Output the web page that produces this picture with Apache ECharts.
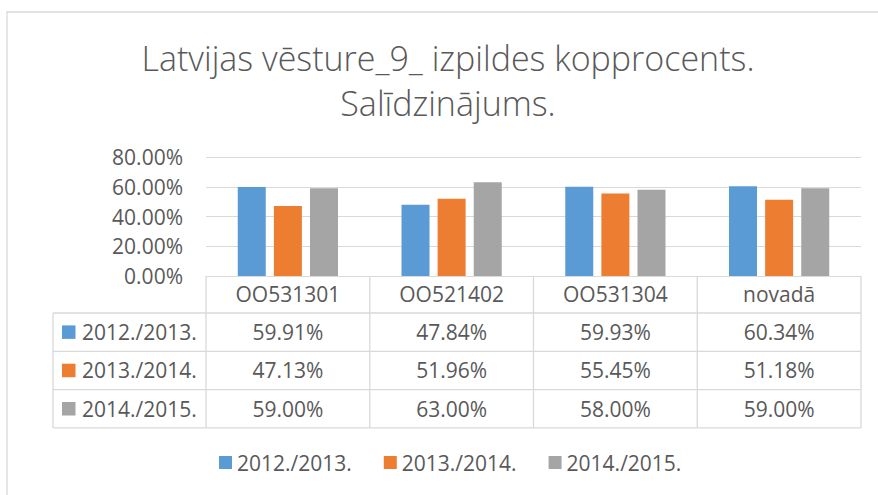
<!DOCTYPE html>
<html><head><meta charset="utf-8">
<script src="https://cdn.jsdelivr.net/npm/echarts@6/dist/echarts.min.js"></script>
<style>html,body{margin:0;padding:0;background:#fff}#c{width:878px;height:495px}</style>
</head><body><div id="c"></div>
<script>
const titleLines = ['Latvijas vēsture_9_ izpildes kopprocents.', 'Salīdzinājums.'];
const categories = ['OO531301', 'OO521402', 'OO531304', 'novadā'];
const seriesNames = ['2012./2013.', '2013./2014.', '2014./2015.'];
const values2012 = [59.91, 47.84, 59.93, 60.34];
const values2013 = [47.13, 51.96, 55.45, 51.18];
const values2014 = [59.00, 63.00, 58.00, 59.00];
const yMin = 0, yMax = 80, yStep = 20;
const colors = ['#5B9BD5', '#ED7D31', '#A5A5A5'];

const allValues = [values2012, values2013, values2014];
const FONT = '"Open Sans", "Noto Sans", sans-serif';
const TXT = '#595959';
const LINE = '#D9D9D9';
const fmt = v => v.toFixed(2) + '%';

const chart = echarts.init(document.getElementById('c'), null, {renderer: 'svg'});
chart.setOption({
  animation: false,
  backgroundColor: '#fff',
  textStyle: {fontFamily: FONT},
  grid: {left: 206, right: 17, top: 157, bottom: 219, containLabel: false},
  legend: {
    data: seriesNames, icon: 'rect', itemWidth: 13, itemHeight: 13, itemGap: 32,
    left: 219, top: 452, padding: 0,
    textStyle: {fontSize: 21, color: TXT, fontFamily: FONT}
  },
  xAxis: {
    type: 'category', data: categories,
    axisLine: {show: true, lineStyle: {color: LINE, width: 1}},
    axisTick: {show: false},
    axisLabel: {fontSize: 21, color: TXT, fontFamily: FONT, margin: 18, verticalAlign: 'middle', interval: 0}
  },
  yAxis: {
    type: 'value', min: yMin, max: yMax, interval: yStep,
    axisLine: {show: false}, axisTick: {show: false},
    splitLine: {lineStyle: {color: LINE, width: 1}},
    axisLabel: {fontSize: 21, color: TXT, fontFamily: FONT, margin: 23, formatter: v => fmt(v)}
  },
  series: seriesNames.map((n, i) => ({
    name: n, type: 'bar', data: allValues[i], barWidth: 28, barGap: '29%',
    itemStyle: {color: colors[i]}
  }))
});

// data table + title drawn as graphic, aligned with the category axis
const y0 = chart.convertToPixel({yAxisIndex: 0}, 0);
const halfBand = (chart.convertToPixel({xAxisIndex: 0}, categories[1]) - chart.convertToPixel({xAxisIndex: 0}, categories[0])) / 2;
const xc = categories.map(c => chart.convertToPixel({xAxisIndex: 0}, c));
const xL = xc[0] - halfBand, xR = xc[xc.length - 1] + halfBand;
const tableLeft = 53, headerH = 37, rowH = 38.3;
const rowTop = i => y0 + headerH + i * rowH;
const g = [];
const ln = (x1, y1, x2, y2) => g.push({type: 'line', silent: true, shape: {x1, y1, x2, y2}, style: {stroke: LINE, lineWidth: 1.3}});
// borders
g.push({type: 'rect', silent: true, shape: {x: 7, y: 12, width: 900, height: 520}, style: {fill: 'none', stroke: LINE, lineWidth: 1.3}});
for (let i = 0; i <= seriesNames.length; i++) ln(tableLeft, rowTop(i), xR, rowTop(i));
ln(tableLeft, rowTop(0), tableLeft, rowTop(seriesNames.length));
for (let k = 0; k <= categories.length; k++) {
  const x = xL + k * 2 * halfBand;
  ln(x, y0, x, rowTop(seriesNames.length));
}
seriesNames.forEach((n, i) => {
  const cy = rowTop(i) + rowH / 2;
  g.push({type: 'rect', silent: true, shape: {x: 62, y: cy - 6.75, width: 13.5, height: 13.5}, style: {fill: colors[i]}});
  g.push({type: 'text', silent: true, x: 82, y: cy, style: {text: n, fill: TXT, font: '21px ' + FONT, align: 'left', verticalAlign: 'middle'}});
  allValues[i].forEach((v, j) => {
    g.push({type: 'text', silent: true, x: xc[j], y: cy, style: {text: fmt(v), fill: TXT, font: '21px ' + FONT, align: 'center', verticalAlign: 'middle'}});
  });
});
titleLines.forEach((t, i) => {
  g.push({type: 'text', silent: true, x: 448, y: 58 + i * 45, style: {text: t, fill: TXT, font: '300 34px ' + FONT, align: 'center', verticalAlign: 'middle'}});
});
chart.setOption({graphic: g});
</script>
</body></html>
